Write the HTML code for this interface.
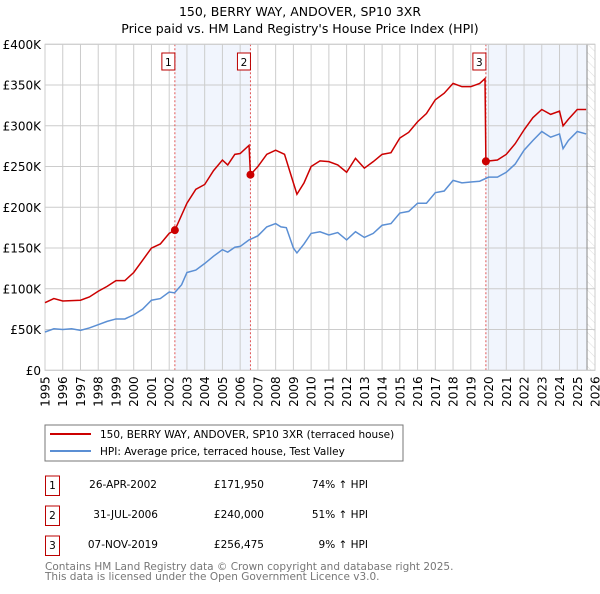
<!DOCTYPE html>
<html><head><meta charset="utf-8">
<style>
body{margin:0;background:#fff;width:600px;height:590px;overflow:hidden;font-family:"DejaVu Sans","Liberation Sans",sans-serif;}
svg text{font-family:"DejaVu Sans","Liberation Sans",sans-serif;}
</style></head><body>
<svg id="chart" width="600" height="590" xmlns="http://www.w3.org/2000/svg">
<text x="300" y="16" text-anchor="middle" font-size="12.5">150, BERRY WAY, ANDOVER, SP10 3XR</text>
<text x="300" y="33" text-anchor="middle" font-size="12.5">Price paid vs. HM Land Registry's House Price Index (HPI)</text>
<defs><pattern id="hatch" width="6" height="6" patternUnits="userSpaceOnUse" patternTransform="rotate(-45)"><line x1="0" y1="0" x2="0" y2="6" stroke="#ddd" stroke-width="1"/></pattern></defs>
<g id="bg"></g><g id="grid"></g><g id="axes"></g><g id="series"></g><g id="marks"></g>
<rect x="45" y="425" width="358" height="36" fill="#fff" stroke="#777"/>
<line x1="50" y1="434" x2="91" y2="434" stroke="#cc0000" stroke-width="2"/>
<text x="100" y="438" font-size="10.5">150, BERRY WAY, ANDOVER, SP10 3XR (terraced house)</text>
<line x1="50" y1="451" x2="91" y2="451" stroke="#5b8fd4" stroke-width="2"/>
<text x="100" y="455" font-size="10.5">HPI: Average price, terraced house, Test Valley</text>
<g font-size="10.5">
<rect x="45.5" y="476" width="14" height="19.5" fill="#fff" stroke="#b00"/><text x="52.5" y="489" text-anchor="middle">1</text>
<text x="157" y="488" text-anchor="end">26-APR-2002</text>
<text x="264" y="488" text-anchor="end">£171,950</text>
<text x="368" y="488" text-anchor="end">74% ↑ HPI</text>
<rect x="45.5" y="506" width="14" height="19.5" fill="#fff" stroke="#b00"/><text x="52.5" y="519" text-anchor="middle">2</text>
<text x="158" y="518" text-anchor="end">31-JUL-2006</text>
<text x="264" y="518" text-anchor="end">£240,000</text>
<text x="368" y="518" text-anchor="end">51% ↑ HPI</text>
<rect x="45.5" y="536" width="14" height="19.5" fill="#fff" stroke="#b00"/><text x="52.5" y="549" text-anchor="middle">3</text>
<text x="158" y="548" text-anchor="end">07-NOV-2019</text>
<text x="264" y="548" text-anchor="end">£256,475</text>
<text x="368" y="548" text-anchor="end">9% ↑ HPI</text>
</g>
<text x="45" y="570" font-size="10.5" fill="#777">Contains HM Land Registry data © Crown copyright and database right 2025.</text>
<text x="45" y="580" font-size="10.5" fill="#777">This data is licensed under the Open Government Licence v3.0.</text>
</svg>
<script>
const hpiYears=[1995,1995.5,1996,1996.5,1997,1997.5,1998,1998.5,1999,1999.5,2000,2000.5,2001,2001.5,2002,2002.3,2002.7,2003,2003.5,2004,2004.5,2005,2005.3,2005.7,2006,2006.5,2007,2007.5,2008,2008.3,2008.6,2009,2009.2,2009.6,2010,2010.5,2011,2011.5,2012,2012.5,2013,2013.5,2014,2014.5,2015,2015.5,2016,2016.5,2017,2017.5,2018,2018.5,2019,2019.5,2020,2020.5,2021,2021.5,2022,2022.5,2023,2023.5,2024,2024.2,2024.5,2025,2025.5];
const hpiValues=[47,51,50,51,49,52,56,60,63,63,68,75,86,88,96,95,105,120,123,131,140,148,145,151,152,160,165,176,180,176,175,150,144,155,168,170,166,169,160,170,163,168,178,180,193,195,205,205,218,220,233,230,231,232,237,237,243,253,270,282,293,286,290,272,282,293,290];
const priceYears=[1995,1995.5,1996,1997,1997.5,1998,1998.5,1999,1999.5,2000,2000.5,2001,2001.5,2002,2002.32,2003,2003.5,2004,2004.5,2005,2005.3,2005.7,2006,2006.5,2006.58,2007,2007.5,2008,2008.5,2009,2009.2,2009.6,2010,2010.5,2011,2011.5,2012,2012.5,2013,2013.5,2014,2014.5,2015,2015.5,2016,2016.5,2017,2017.5,2018,2018.5,2019,2019.5,2019.8,2019.85,2020.5,2021,2021.5,2022,2022.5,2023,2023.5,2024,2024.2,2024.5,2025,2025.5];
const priceValues=[83,88,85,86,90,97,103,110,110,120,135,150,155,168,172,205,222,228,245,258,252,265,266,276,240,250,265,270,265,230,216,230,250,257,256,252,243,260,248,256,265,267,285,292,305,315,332,340,352,348,348,352,358,256.5,258,265,278,295,310,320,314,318,300,308,320,320];
const saleYears=[2002.32,2006.58,2019.85];
const saleValues=[171.95,240,256.475];
const saleLabels=["1","2","3"];
const yTicks=[0,50,100,150,200,250,300,350,400];
const yTickLabels=["£0","£50K","£100K","£150K","£200K","£250K","£300K","£350K","£400K"];
const xStart=1995,xEnd=2026,dataEnd=2025.55;
const L=45,R=595,T=44.3,B=370.3;
const xs=y=>L+(y-xStart)/(xEnd-xStart)*(R-L);
const ys=v=>B-v/400*(B-T);
const NS="http://www.w3.org/2000/svg";
function mk(tag,attrs,parent){const e=document.createElementNS(NS,tag);for(const k in attrs)e.setAttribute(k,attrs[k]);document.getElementById(parent).appendChild(e);return e;}
let e;
e=mk('rect',{x:L,y:T,width:R-L,height:B-T,fill:'#fff'},'bg');


e=mk('rect',{x:xs(saleYears[0]),y:T,width:xs(saleYears[1])-xs(saleYears[0]),height:B-T,fill:'#eef3fd',opacity:0.8},'bg');


e=mk('rect',{x:xs(saleYears[2]),y:T,width:xs(dataEnd)-xs(saleYears[2]),height:B-T,fill:'#eef3fd',opacity:0.8},'bg');


e=mk('rect',{x:xs(dataEnd),y:T,width:R-xs(dataEnd),height:B-T,fill:'url(#hatch)'},'bg');


for(let yr=xStart;yr<=xEnd;yr++){
 e=mk('line',{x1:xs(yr),x2:xs(yr),y1:T,y2:B,stroke:'#ccc','stroke-width':1},'grid');
 
 
 e=mk('text',{x:0,y:0,'font-size':12,'text-anchor':'end',transform:`translate(${xs(yr)+4.5},${B+6}) rotate(-90)`},'axes');
 e.textContent=yr;
 
 
}
yTicks.forEach((v,i)=>{
 e=mk('line',{x1:L,x2:R,y1:ys(v),y2:ys(v),stroke:'#ccc','stroke-width':1},'grid');
 
 
 e=mk('text',{x:L-4,y:ys(v)+4.5,'font-size':12,'text-anchor':'end'},'axes');
 e.textContent=yTickLabels[i];
 
 
});
e=mk('line',{x1:xs(dataEnd),x2:xs(dataEnd),y1:T,y2:B,stroke:'#888','stroke-width':1},'grid');


saleYears.forEach((yr,i)=>{
 e=mk('line',{x1:xs(yr),x2:xs(yr),y1:T,y2:B,stroke:'#e05555','stroke-width':1,'stroke-dasharray':'2,2'},'grid');
 
 
});
e=mk('polyline',{points:hpiYears.map((y,i)=>xs(y)+','+ys(hpiValues[i])).join(' '),fill:'none',stroke:'#5b8fd4','stroke-width':1.5},'series');


e=mk('polyline',{points:priceYears.map((y,i)=>xs(y)+','+ys(priceValues[i])).join(' '),fill:'none',stroke:'#cc0000','stroke-width':1.5},'series');


saleYears.forEach((yr,i)=>{
 e=mk('circle',{cx:xs(yr),cy:ys(saleValues[i]),r:4,fill:'#cc0000'},'marks');
 
 
 e=mk('rect',{x:xs(yr)-13,y:53,width:13,height:17,fill:'#fff',stroke:'#b00'},'marks');
 
 
 e=mk('text',{x:xs(yr)-6.5,y:66,'font-size':10.5,'text-anchor':'middle'},'marks');
 e.textContent=saleLabels[i];
 
 
});
e=mk('rect',{x:L,y:T,width:R-L,height:B-T,fill:'none',stroke:'#ccc'},'axes');


</script>
</body></html>
